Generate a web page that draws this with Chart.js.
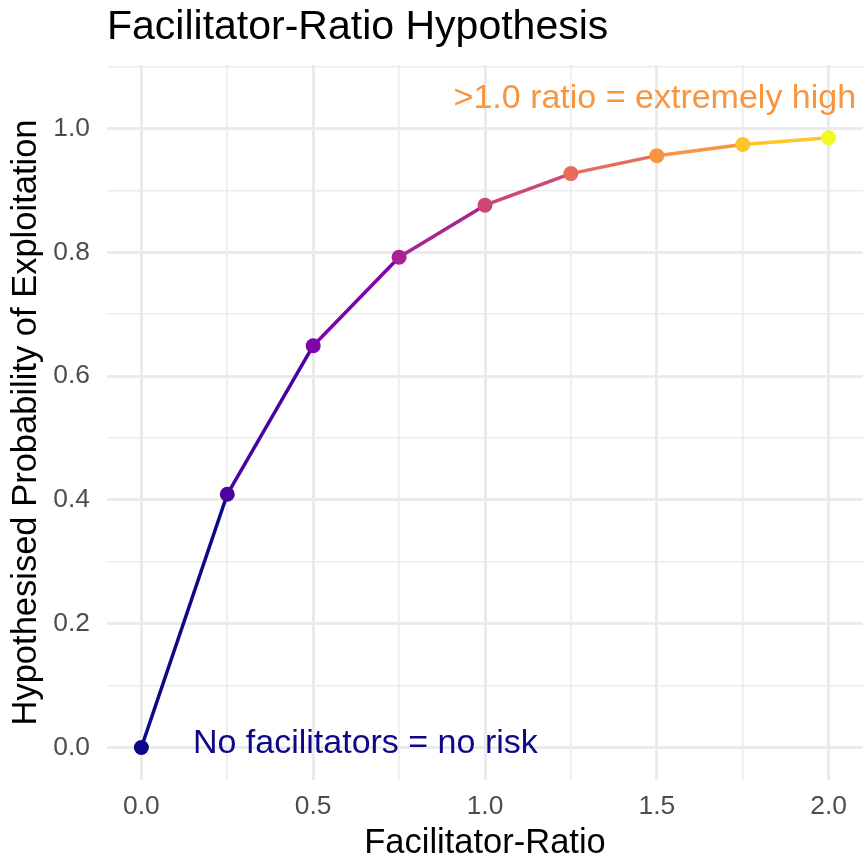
<!DOCTYPE html>
<html>
<head>
<meta charset="utf-8">
<script src="https://cdn.jsdelivr.net/npm/chart.js@4/dist/chart.umd.min.js"></script>
<style>
  html, body { margin: 0; padding: 0; background: #fff; }
  #chart { display: block; }
</style>
</head>
<body>
<canvas id="chart" width="863" height="856"></canvas>
<script>
// data
const ratio = [0, 0.25, 0.5, 0.75, 1.0, 1.25, 1.5, 1.75, 2.0]
const probability = [0, 0.409, 0.649, 0.792, 0.876, 0.927, 0.956, 0.974, 0.985]

const xMajor = [0, 0.5, 1.0, 1.5, 2.0]
const xGrid = [0, 0.25, 0.5, 0.75, 1.0, 1.25, 1.5, 1.75, 2.0]
const yMajor = [0, 0.2, 0.4, 0.6, 0.8, 1.0]
const yGrid = [0, 0.1, 0.2, 0.3, 0.4, 0.5, 0.6, 0.7, 0.8, 0.9, 1.0, 1.1]

const notes = [
  { text: 'No facilitators = no risk', x: 0.15, y: 0 },
  { text: '>1.0 ratio = extremely high', x: 2.08, y: 1.05 }
]

// plasma colours, one per point
const plasma = ['#0d0887', '#4c02a1', '#7e03a8', '#a92395', '#cc4778', '#e66c5c', '#f89540', '#fdc527', '#f0f921']
const noteStyle = [
  { color: '#0d0887', align: 'left', dy: 6 },
  { color: '#f89540', align: 'right', dy: 11 }
]

const FONT = '"Liberation Sans", Arial, Helvetica, sans-serif'
const GRID = '#ebebeb'

const isMajor = (list, v) => list.some(m => Math.abs(m - v) < 1e-6)

const notesPlugin = {
    id: 'notes',
    afterDatasetsDraw(chart) {
        const { ctx, scales } = chart
        ctx.save()
        ctx.font = '34px ' + FONT
        ctx.textBaseline = 'alphabetic'
        notes.forEach((n, i) => {
            const s = noteStyle[i]
            ctx.fillStyle = s.color
            ctx.textAlign = s.align
            ctx.fillText(n.text, scales.x.getPixelForValue(n.x), scales.y.getPixelForValue(n.y) + s.dy)
        })
        ctx.restore()
    }
}

const chartEl = document.getElementById('chart')

new Chart(chartEl, {
    type: 'line',
    data: {
        datasets: [{
            label: 'Probability',
            data: ratio.map((x, i) => ({ x: x, y: probability[i] })),
            borderWidth: 3.5,
            borderColor: plasma[0],
            segment: {
                borderColor: ctx => plasma[ctx.p0DataIndex]
            },
            pointRadius: 7.5,
            pointBorderWidth: 0,
            pointBackgroundColor: plasma,
            tension: 0
        }]
    },
    options: {
        responsive: false,
        animation: false,
        layout: { padding: 0, autoPadding: false },
        plugins: {
            legend: { display: false },
            tooltip: { enabled: false },
            title: {
                display: true,
                text: 'Facilitator-Ratio Hypothesis',
                align: 'start',
                fullSize: false,
                color: '#000',
                font: { family: FONT, size: 41, weight: 'normal', lineHeight: 1.15 },
                padding: { top: 4, bottom: 13.8 }
            }
        },
        scales: {
            x: {
                type: 'linear',
                min: -0.1,
                max: 2.1,
                afterBuildTicks: scale => { scale.ticks = xGrid.map(v => ({ value: v })) },
                afterFit: scale => {
                    scale.height = 76
                    scale.paddingLeft = 0
                    scale.paddingRight = 0
                },
                border: { display: false },
                grid: {
                    color: GRID,
                    drawTicks: false,
                    lineWidth: c => isMajor(xMajor, c.tick.value) ? 3 : 1.6
                },
                ticks: {
                    autoSkip: false,
                    maxRotation: 0,
                    padding: 11,
                    color: '#4d4d4d',
                    font: { family: FONT, size: 26.4 },
                    callback: v => isMajor(xMajor, v) ? v.toFixed(1) : ''
                },
                title: {
                    display: true,
                    text: 'Facilitator-Ratio',
                    color: '#000',
                    font: { family: FONT, size: 34.5, lineHeight: 0.7 },
                    padding: { top: 0, bottom: 0 }
                }
            },
            y: {
                type: 'linear',
                min: -0.0525,
                max: 1.1025,
                afterBuildTicks: scale => { scale.ticks = yGrid.map(v => ({ value: v })) },
                afterFit: scale => {
                    scale.width = 107
                    scale.paddingTop = 0
                    scale.paddingBottom = 0
                },
                border: { display: false },
                grid: {
                    color: GRID,
                    drawTicks: false,
                    lineWidth: c => isMajor(yMajor, c.tick.value) ? 3 : 1.6
                },
                ticks: {
                    autoSkip: false,
                    padding: 17,
                    color: '#4d4d4d',
                    font: { family: FONT, size: 26.4 },
                    callback: v => isMajor(yMajor, v) ? v.toFixed(1) : ''
                },
                title: {
                    display: true,
                    text: 'Hypothesised Probability of Exploitation',
                    color: '#000',
                    font: { family: FONT, size: 34.5 },
                    padding: { top: 6, bottom: 0 }
                }
            }
        }
    },
    plugins: [notesPlugin]
});
</script>
</body>
</html>
